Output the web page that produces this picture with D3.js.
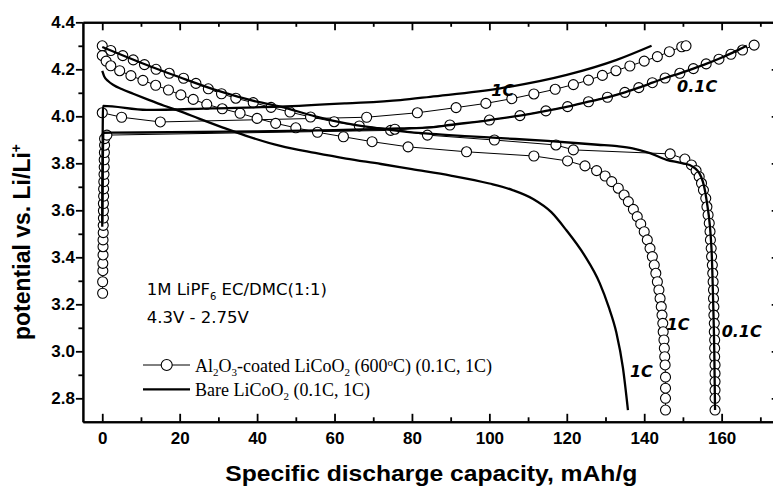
<!DOCTYPE html>
<html><head><meta charset="utf-8">
<script src="https://cdn.jsdelivr.net/npm/d3@7"></script>
<style>body{margin:0;background:#fff}svg{display:block}</style>
</head><body>
<svg id="c" width="773" height="486"></svg>
<script>
// ---------- data (capacity mAh/g, potential V) ----------
const xMajorTicks = [0,20,40,60,80,100,120,140,160];
const xMinorTicks = [10,30,50,70,90,110,130,150,170];
const yMajorTicks = [2.8,3.0,3.2,3.4,3.6,3.8,4.0,4.2,4.4];
const yMinorTicks = [2.9,3.1,3.3,3.5,3.7,3.9,4.1,4.3];

const coated01Charge = [[0.1,3.247],[0.1,3.296],[0.15,3.343],[0.15,3.374],[0.2,3.41],[0.2,3.445],[0.2,3.474],[0.25,3.505],[0.25,3.536],[0.3,3.567],[0.3,3.598],[0.3,3.629],[0.35,3.66],[0.35,3.691],[0.4,3.722],[0.45,3.753],[0.5,3.784],[0.5,3.815],[0.55,3.846],[0.6,3.877],[0.6,3.905],[1.2,3.92],
  [74.5,3.94],[89.8,3.963],[100,3.984],[107.9,4.003],[114.6,4.023],[120.2,4.041],[125.6,4.062],[130.5,4.081],[135,4.102],[138.6,4.122],[142.1,4.143],[145.4,4.163],[149.2,4.183],[152.7,4.203],[156,4.223],[159.3,4.243],[162.4,4.264],[165.4,4.282],[168.4,4.303]];
const coated01Discharge = [[0,4.30],[2.2,4.28],[5.3,4.258],[8,4.24],[10.9,4.22],[13.9,4.20],[17.3,4.183],[21,4.162],[24.2,4.14],[27.4,4.117],[30.8,4.096],[34.5,4.077],[39,4.058],[43.6,4.038],[48.5,4.018],[53.8,3.997],[59.9,3.977],[66.4,3.959],[75.6,3.945],[84,3.92],[101.3,3.899],[117.2,3.878],[121.7,3.857],[146.7,3.84],[150.5,3.818],
  [152.2,3.793],[153.4,3.769],[154.2,3.743],[154.8,3.715],[155.3,3.686],[155.9,3.651],[156.2,3.615],[156.5,3.58],[156.8,3.545],[157,3.51],[157.1,3.474],[157.3,3.438],[157.4,3.403],[157.6,3.367],[157.7,3.332],[157.8,3.296],[157.9,3.261],[157.9,3.225],[158,3.19],[158,3.154],[158.1,3.119],[158.1,3.083],[158.2,3.048],[158.2,3.013],[158.2,2.977],[158.3,2.942],[158.3,2.906],[158.3,2.871],[158.3,2.835],[158.3,2.80],[158.3,2.75]];
const coated1Charge = [[0,4.015],[5,3.996],[15,3.976],[68.3,3.996],[81.4,4.015],[91.4,4.037],[99.1,4.055],[105.8,4.075],[111.5,4.095],[117,4.115],[121.7,4.135],[125.6,4.154],[129.2,4.174],[132.7,4.194],[136.3,4.214],[140,4.235],[143.4,4.254],[146.5,4.275],[149.7,4.296],[150.8,4.30]];
const coated1Discharge = [[0,4.258],[1,4.235],[2.2,4.215],[4.5,4.194],[7.4,4.173],[10.5,4.153],[13.8,4.132],[17.1,4.112],[20.3,4.091],[23.5,4.072],[27,4.051],[31,4.032],[35.6,4.013],[40,3.991],[44.8,3.97],[50,3.951],[55.6,3.932],[62.3,3.913],[69.7,3.892],[79,3.87],[94.1,3.849],[111.5,3.831],[120.2,3.81],[124.7,3.789],[127.7,3.769],[129.9,3.746],[131.6,3.722],[133.3,3.694],[134.8,3.665],[135.9,3.637],[137.2,3.604],[138.2,3.573],[139.1,3.542],[140,3.509],[140.8,3.474],[141.5,3.438],[142.1,3.403],[142.6,3.367],[143,3.332],[143.4,3.296],[143.8,3.261],[144.1,3.225],[144.4,3.19],[144.6,3.154],[144.8,3.119],[144.9,3.083],[145.1,3.048],[145.2,3.013],[145.3,2.977],[145.4,2.942],[145.5,2.89],[145.5,2.843],[145.5,2.80],[145.5,2.75]];

const bare01Charge = [[0,3.55],[0.3,3.93],[10,3.931],[40,3.936],[60,3.941],[77,3.948],[85,3.953],[89.8,3.963],[100,3.984],[107.9,4.003],[114.6,4.023],[120.2,4.041],[125.6,4.062],[130.5,4.081],[135,4.102],[138.6,4.122],[142.1,4.143],[145.4,4.163],[149.2,4.183],[152.7,4.203],[156,4.223],[159.3,4.245],[163,4.272],[166.5,4.30]];
const bare01Discharge = [[0,4.295],[10,4.228],[20,4.166],[30,4.108],[40,4.062],[46,4.041],[55,4.0],[63,3.97],[70,3.952],[77,3.937],[85,3.925],[95,3.915],[103,3.907],[115,3.895],[128,3.879],[133,3.873],[137,3.864],[141.5,3.843],[145.8,3.815],[150,3.80],[152.5,3.786],[154.7,3.743],[156.1,3.644],[157.4,3.431],[157.8,3.218],[158.1,3.0],[158.3,2.75]];
const bare1Charge = [[0,3.53],[0.2,4.044],[11.5,4.027],[28.6,4.034],[45.9,4.041],[63,4.055],[77,4.069],[84.7,4.083],[102.8,4.119],[120,4.176],[132.9,4.24],[141.9,4.30]];
const bare1Discharge = [[0,4.193],[0.5,4.17],[1.5,4.15],[3,4.132],[5,4.116],[8,4.096],[12,4.07],[16,4.045],[20,4.022],[25,3.99],[31,3.953],[37,3.918],[46,3.874],[55,3.844],[63,3.82],[72,3.797],[80,3.775],[90,3.748],[100,3.714],[106,3.686],[111.3,3.648],[116,3.592],[119.9,3.515],[124.5,3.41],[128.5,3.29],[130.8,3.19],[132.8,3.08],[134.5,2.93],[135.8,2.75]];

const coatedSeries = [coated01Charge, coated01Discharge, coated1Charge, coated1Discharge];
const bareSeries = [bare01Charge, bare01Discharge, bare1Charge, bare1Discharge];

const rateLabels = [
  {t:"1C", c:100.5, v:4.085},
  {t:"0.1C", c:148.5, v:4.105},
  {t:"1C", c:145.8, v:3.09},
  {t:"0.1C", c:160, v:3.06},
  {t:"1C", c:136.3, v:2.89}
];

// ---------- chart ----------
const svg = d3.select("#c");
const x = d3.scaleLinear().domain([-5,175]).range([82.9, 779.7]);
const y = d3.scaleLinear().domain([2.7,4.4]).range([421.8, 22.3]);
const bottomY = y(2.7), topY = y(4.4), leftX = x(-5), rightX = x(175);

const tickFont = "'Liberation Sans', Arial, sans-serif";

function styleAxis(g){
  g.select(".domain").attr("stroke","#000").attr("stroke-width",2);
  g.selectAll(".tick line").attr("stroke","#000").attr("stroke-width",1.8);
  g.selectAll("text").attr("fill","#000").style("font-family",tickFont)
    .style("font-weight","bold").style("font-size","17px");
}

// bottom axis (inward ticks)
svg.append("g").attr("transform",`translate(0,${bottomY})`)
  .call(d3.axisBottom(x).tickValues(xMinorTicks).tickSizeInner(-4.5).tickSizeOuter(0).tickFormat(""))
  .call(styleAxis);
svg.append("g").attr("transform",`translate(0,${bottomY})`)
  .call(d3.axisBottom(x).tickValues(xMajorTicks).tickSizeInner(-8).tickSizeOuter(0).tickPadding(10).tickFormat(d3.format("d")))
  .call(styleAxis);
// top axis
svg.append("g").attr("transform",`translate(0,${topY})`)
  .call(d3.axisTop(x).tickValues(xMinorTicks).tickSizeInner(-4.5).tickSizeOuter(0).tickFormat(""))
  .call(styleAxis);
svg.append("g").attr("transform",`translate(0,${topY})`)
  .call(d3.axisTop(x).tickValues(xMajorTicks).tickSizeInner(-8).tickSizeOuter(0).tickFormat(""))
  .call(styleAxis);
// left axis (outward ticks)
svg.append("g").attr("transform",`translate(${leftX},0)`)
  .call(d3.axisLeft(y).tickValues(yMinorTicks).tickSizeInner(4.5).tickSizeOuter(0).tickFormat(""))
  .call(styleAxis);
svg.append("g").attr("transform",`translate(${leftX},0)`)
  .call(d3.axisLeft(y).tickValues(yMajorTicks).tickSizeInner(7).tickSizeOuter(0).tickPadding(1).tickFormat(d3.format(".1f")))
  .call(styleAxis);
// right axis (inward)
svg.append("g").attr("transform",`translate(${rightX},0)`)
  .call(d3.axisRight(y).tickValues(yMajorTicks).tickSizeInner(-8).tickSizeOuter(0).tickFormat(""))
  .call(styleAxis);

// ---------- curves ----------
const thinLine = d3.line().x(d=>x(d[0])).y(d=>y(d[1]));
const smoothLine = d3.line().x(d=>x(d[0])).y(d=>y(d[1])).curve(d3.curveMonotoneX);

const plot = svg.append("g");
coatedSeries.forEach(s=>{
  plot.append("path").datum(s).attr("d",thinLine)
    .attr("fill","none").attr("stroke","#000").attr("stroke-width",1);
});
coatedSeries.forEach(s=>{
  plot.append("g").selectAll("circle").data(s).join("circle")
    .attr("cx",d=>x(d[0])).attr("cy",d=>y(d[1])).attr("r",5)
    .attr("fill","#fff").attr("stroke","#000").attr("stroke-width",1.1);
});
bareSeries.forEach(s=>{
  plot.append("path").datum(s).attr("d",smoothLine)
    .attr("fill","none").attr("stroke","#000").attr("stroke-width",2.3)
    .attr("stroke-linejoin","round");
});

// rate labels
svg.append("g").selectAll("text").data(rateLabels).join("text")
  .attr("x",d=>x(d.c)).attr("y",d=>y(d.v))
  .style("font-family","'DejaVu Sans', sans-serif").style("font-weight","bold")
  .style("font-style","italic").style("font-size","16px").attr("fill","#000")
  .text(d=>d.t);

// conditions annotation
const ann = svg.append("g").style("font-family","'DejaVu Sans', sans-serif").style("font-size","16.5px").attr("fill","#000");
const a1 = ann.append("text").attr("x",146.7).attr("y",295);
a1.append("tspan").text("1M LiPF");
a1.append("tspan").attr("dy",5).style("font-size","10px").text("6");
a1.append("tspan").attr("dy",-5).text(" EC/DMC(1:1)");
ann.append("text").attr("x",146.7).attr("y",323.3).text("4.3V - 2.75V");

// legend
const lg = svg.append("g").style("font-family","'Liberation Serif', 'Times New Roman', serif").style("font-size","18px");
lg.append("line").attr("x1",143).attr("x2",190).attr("y1",365).attr("y2",365).attr("stroke","#000").attr("stroke-width",1);
lg.append("circle").attr("cx",166.7).attr("cy",365).attr("r",5.5).attr("fill","#fff").attr("stroke","#000").attr("stroke-width",1.1);
const t1 = lg.append("text").attr("x",195).attr("y",371.5);
t1.append("tspan").text("Al");
t1.append("tspan").attr("dy",4).style("font-size","11px").text("2");
t1.append("tspan").attr("dy",-4).text("O");
t1.append("tspan").attr("dy",4).style("font-size","11px").text("3");
t1.append("tspan").attr("dy",-4).text("-coated LiCoO");
t1.append("tspan").attr("dy",4).style("font-size","11px").text("2");
t1.append("tspan").attr("dy",-4).text(" (600");
t1.append("tspan").attr("dy",-6).style("font-size","11px").text("o");
t1.append("tspan").attr("dy",6).text("C) (0.1C, 1C)");
lg.append("line").attr("x1",143).attr("x2",190).attr("y1",389.3).attr("y2",389.3).attr("stroke","#000").attr("stroke-width",2.3);
const t2 = lg.append("text").attr("x",195).attr("y",396);
t2.append("tspan").text("Bare LiCoO");
t2.append("tspan").attr("dy",4).style("font-size","11px").text("2");
t2.append("tspan").attr("dy",-4).text(" (0.1C, 1C)");

// axis titles
svg.append("text").attr("x",(leftX+rightX)/2).attr("y",481)
  .attr("text-anchor","middle").attr("textLength",412).attr("lengthAdjust","spacingAndGlyphs")
  .style("font-family",tickFont).style("font-weight","bold").style("font-size","22px")
  .text("Specific discharge capacity, mAh/g");
const yt = svg.append("text").attr("transform","translate(30,242) rotate(-90)")
  .attr("text-anchor","middle")
  .style("font-family",tickFont).style("font-weight","bold").style("font-size","23px");
yt.append("tspan").text("potential vs. Li/Li");
yt.append("tspan").attr("dy",-9).style("font-size","14px").text("+");
</script>
</body></html>
